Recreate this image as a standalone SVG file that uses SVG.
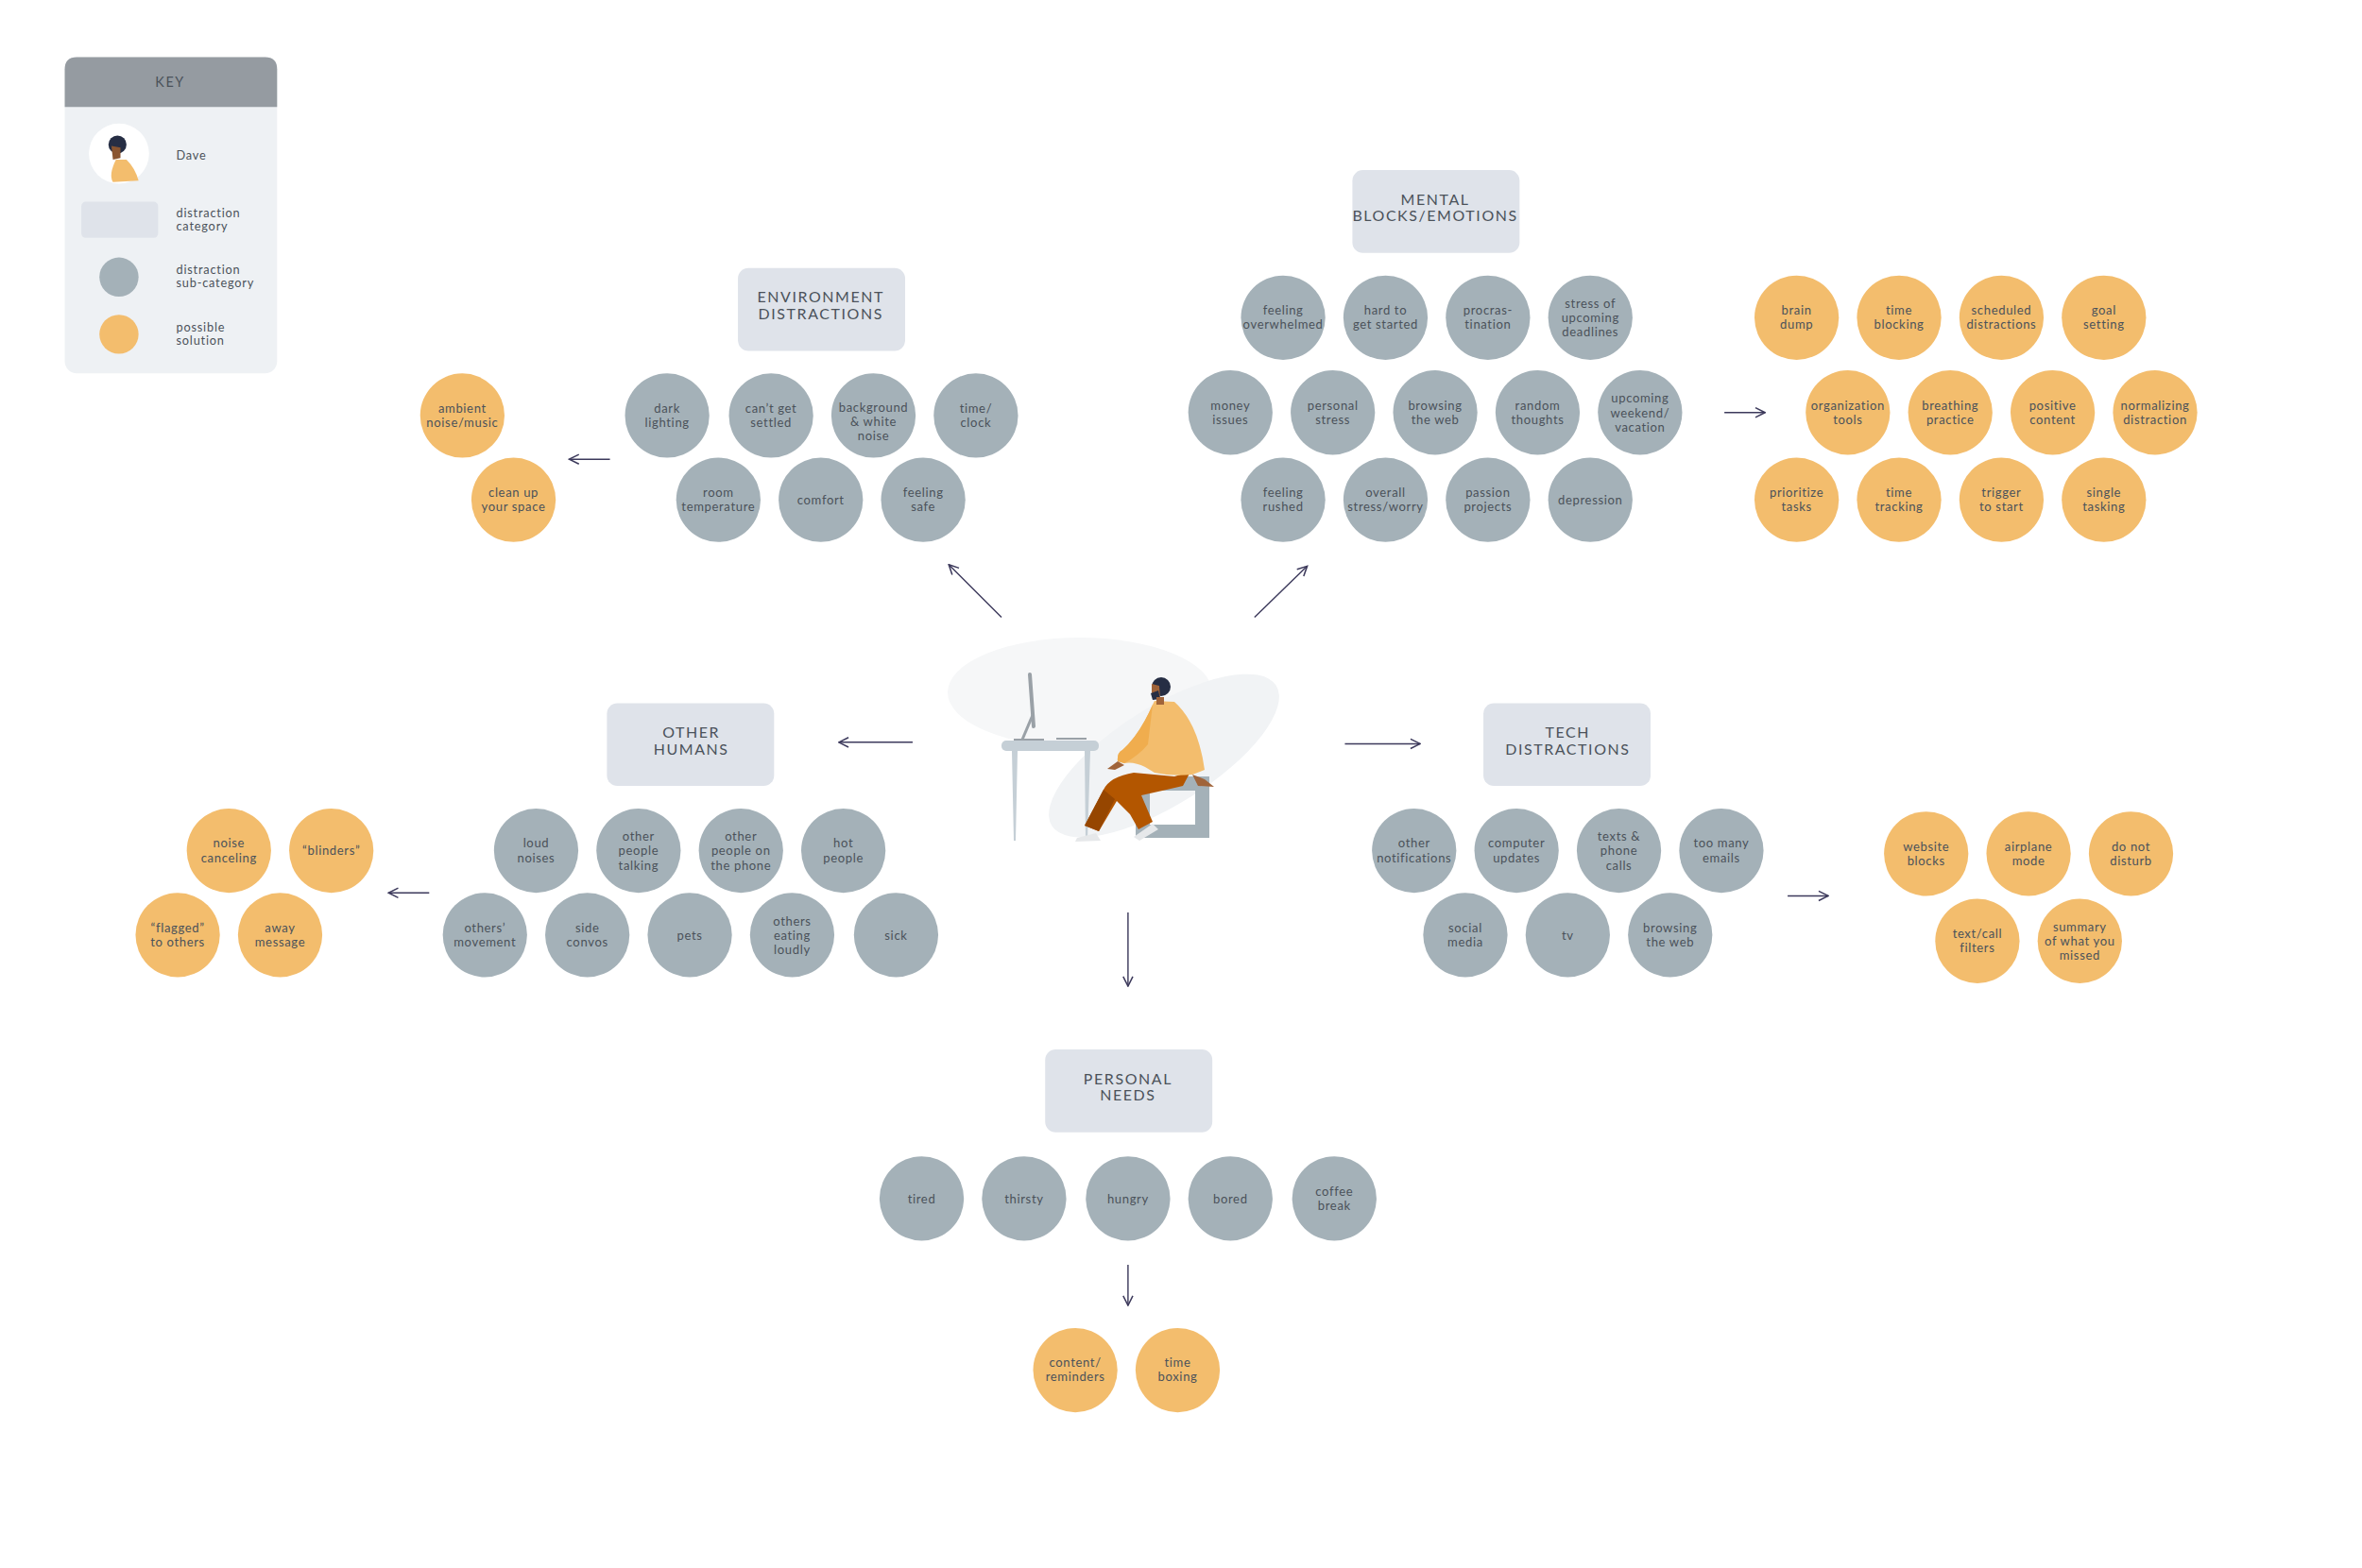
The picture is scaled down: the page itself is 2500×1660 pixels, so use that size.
<svg xmlns="http://www.w3.org/2000/svg" width="2500" height="1660" viewBox="0 0 2500 1660">
<style>
.g{fill:#a4b1b8}.o{fill:#f3bd6d}.cat{fill:#dfe3ea}
text{font-family:Lato,"Open Sans",sans-serif;fill:#4b525a}
.t{font-size:8.2px;text-anchor:middle;letter-spacing:0.4px}
.c{font-size:10px;text-anchor:middle;letter-spacing:1px}
.k{font-size:8px;letter-spacing:0.5px}
.a{stroke:#3d3a5c;stroke-width:0.9;fill:none;marker-end:url(#ah)}
</style>
<defs>
<marker id="ah" viewBox="0 0 10 10" refX="9" refY="5" markerWidth="8" markerHeight="8" orient="auto" markerUnits="userSpaceOnUse"><path d="M1,1 L9,5 L1,9" fill="none" stroke="#3d3a5c" stroke-width="1.2"/></marker>
</defs>
<rect width="2500" height="1660" fill="#fff"/>
<g id="illustration">
<ellipse cx="1143" cy="733" rx="140" ry="58" fill="#f6f7f8"/>
<ellipse cx="1232" cy="800" rx="140" ry="52" transform="rotate(-32 1232 800)" fill="#f1f3f5"/>
<rect x="1060" y="784" width="103" height="11" rx="5" fill="#c5cfd6"/>
<path d="M1071,795 L1077,795 L1075,890 L1073,890 Z M1148,795 L1154,795 L1151,890 L1149,890 Z" fill="#c5cfd6"/>
<line x1="1090" y1="714" x2="1094" y2="769" stroke="#9aa1a7" stroke-width="4" stroke-linecap="round"/>
<line x1="1093" y1="757" x2="1082" y2="783" stroke="#9aa1a7" stroke-width="3"/>
<line x1="1073" y1="783" x2="1105" y2="783" stroke="#9aa1a7" stroke-width="2"/>
<line x1="1118" y1="782" x2="1150" y2="782" stroke="#9aa1a7" stroke-width="2"/>
<path d="M1202,822 H1280 V887 H1202 Z M1217,837 V873 H1265 V837 Z" fill="#a4b1b8" fill-rule="evenodd"/>
<path d="M1260,817 L1243,822 L1200,818 Q1175,822 1168,836 L1148,874 L1163,880 L1182,848 L1196,862 L1205,878 L1220,870 L1208,842 Q1235,836 1252,832 Z" fill="#b35600"/>
<path d="M1168,836 L1148,874 L1163,880 L1180,846 Z" fill="#964600"/>
<path d="M1140,887 L1160,882 L1165,890 L1138,891 Z M1200,886 L1220,872 L1226,878 L1206,890 Z" fill="#e6e8ea"/>
<path d="M1222,742 L1243,743 Q1268,765 1275,815 L1262,820 Q1240,822 1222,818 L1212,812 Q1200,806 1190,808 L1183,806 Q1182,797 1188,794 Q1206,778 1220,746 Z" fill="#f3bd6d"/>
<path d="M1220,746 Q1206,778 1188,794 Q1182,797 1183,806 L1190,808 Q1205,800 1215,788 Z" fill="#f0ad4e"/>
<path d="M1262,820 L1275,825 L1285,833 L1268,832 Z M1183,806 L1172,814 L1180,815 L1190,810 Z" fill="#a0643a"/>
<circle cx="1229" cy="727" r="10" fill="#262e44"/>
<path d="M1219,724 L1227,726 L1228,740 L1222,740 L1219,733 Z" fill="#a0643a"/>
<path d="M1218,734 L1226,731 L1228,740 L1220,741 Z" fill="#262e44"/>
<rect x="1224" y="738" width="8" height="8" fill="#a0643a"/>
</g>
<g transform="scale(1.594)">
<g id="key">
<rect x="43" y="38" width="141" height="210" rx="8" fill="#eef1f4"/>
<path d="M43,71 V46 Q43,38 51,38 H176 Q184,38 184,46 V71 Z" fill="#959ba1"/>
<text x="113" y="58" class="c" style="font-size:9px">KEY</text>
<circle cx="79" cy="102" r="20" fill="#fff"/>
<circle cx="78" cy="96" r="6" fill="#262e44"/>
<path d="M74,97 L80,98 L80,105 L75,106 Z" fill="#8a5530"/>
<path d="M77,106 L84,106 Q90,112 92,120 L75,121 Q72,116 77,106 Z" fill="#f3bd6d"/>
<text x="117" y="106" class="k">Dave</text>
<rect x="54" y="134" width="51" height="24" rx="3" class="cat"/>
<text x="117" y="144" class="k">distraction</text><text x="117" y="153" class="k">category</text>
<circle cx="79" cy="184" r="13" class="g"/>
<text x="117" y="182" class="k">distraction</text><text x="117" y="191" class="k">sub-category</text>
<circle cx="79" cy="222" r="13" class="o"/>
<text x="117" y="220" class="k">possible</text><text x="117" y="229" class="k">solution</text>
</g>
<g id="connectors">
<line class="a" x1="665" y1="410" x2="630" y2="375"/>
<line class="a" x1="405" y1="305" x2="378" y2="305"/>
<line class="a" x1="833" y1="410" x2="868" y2="376"/>
<line class="a" x1="1145" y1="274" x2="1172" y2="274"/>
<line class="a" x1="606" y1="493" x2="557" y2="493"/>
<line class="a" x1="285" y1="593" x2="258" y2="593"/>
<line class="a" x1="893" y1="494" x2="943" y2="494"/>
<line class="a" x1="1187" y1="595" x2="1214" y2="595"/>
<line class="a" x1="749" y1="606" x2="749" y2="655"/>
<line class="a" x1="749" y1="840" x2="749" y2="867"/>
</g>
<g id="env"><rect x="490" y="178" width="111" height="55" rx="7" class="cat"/><text x="545" y="201" class="c">ENVIRONMENT</text><text x="545" y="212" class="c">DISTRACTIONS</text></g>
<g id="env1"><circle cx="443" cy="276" r="28" class="g"/><text class="t" x="443" y="274">dark</text><text class="t" x="443" y="283.5">lighting</text></g>
<g id="env2"><circle cx="512" cy="276" r="28" class="g"/><text class="t" x="512" y="274">can’t get</text><text class="t" x="512" y="283.5">settled</text></g>
<g id="env3"><circle cx="580" cy="276" r="28" class="g"/><text class="t" x="580" y="273.5">background</text><text class="t" x="580" y="283">&amp; white</text><text class="t" x="580" y="292.5">noise</text></g>
<g id="env4"><circle cx="648" cy="276" r="28" class="g"/><text class="t" x="648" y="274">time/</text><text class="t" x="648" y="283.5">clock</text></g>
<g id="env5"><circle cx="477" cy="332" r="28" class="g"/><text class="t" x="477" y="330">room</text><text class="t" x="477" y="339.5">temperature</text></g>
<g id="env6"><circle cx="545" cy="332" r="28" class="g"/><text class="t" x="545" y="335">comfort</text></g>
<g id="env7"><circle cx="613" cy="332" r="28" class="g"/><text class="t" x="613" y="330">feeling</text><text class="t" x="613" y="339.5">safe</text></g>
<g id="envs1"><circle cx="307" cy="276" r="28" class="o"/><text class="t" x="307" y="274">ambient</text><text class="t" x="307" y="283.5">noise/music</text></g>
<g id="envs2"><circle cx="341" cy="332" r="28" class="o"/><text class="t" x="341" y="330">clean up</text><text class="t" x="341" y="339.5">your space</text></g>
<g id="mental"><rect x="898" y="113" width="111" height="55" rx="7" class="cat"/><text x="953" y="136" class="c">MENTAL</text><text x="953" y="147" class="c">BLOCKS/EMOTIONS</text></g>
<g id="m1"><circle cx="852" cy="211" r="28" class="g"/><text class="t" x="852" y="209">feeling</text><text class="t" x="852" y="218.5">overwhelmed</text></g>
<g id="m2"><circle cx="920" cy="211" r="28" class="g"/><text class="t" x="920" y="209">hard to</text><text class="t" x="920" y="218.5">get started</text></g>
<g id="m3"><circle cx="988" cy="211" r="28" class="g"/><text class="t" x="988" y="209">procras-</text><text class="t" x="988" y="218.5">tination</text></g>
<g id="m4"><circle cx="1056" cy="211" r="28" class="g"/><text class="t" x="1056" y="204.5">stress of</text><text class="t" x="1056" y="214">upcoming</text><text class="t" x="1056" y="223.5">deadlines</text></g>
<g id="m5"><circle cx="817" cy="274" r="28" class="g"/><text class="t" x="817" y="272">money</text><text class="t" x="817" y="281.5">issues</text></g>
<g id="m6"><circle cx="885" cy="274" r="28" class="g"/><text class="t" x="885" y="272">personal</text><text class="t" x="885" y="281.5">stress</text></g>
<g id="m7"><circle cx="953" cy="274" r="28" class="g"/><text class="t" x="953" y="272">browsing</text><text class="t" x="953" y="281.5">the web</text></g>
<g id="m8"><circle cx="1021" cy="274" r="28" class="g"/><text class="t" x="1021" y="272">random</text><text class="t" x="1021" y="281.5">thoughts</text></g>
<g id="m9"><circle cx="1089" cy="274" r="28" class="g"/><text class="t" x="1089" y="267.5">upcoming</text><text class="t" x="1089" y="277">weekend/</text><text class="t" x="1089" y="286.5">vacation</text></g>
<g id="m10"><circle cx="852" cy="332" r="28" class="g"/><text class="t" x="852" y="330">feeling</text><text class="t" x="852" y="339.5">rushed</text></g>
<g id="m11"><circle cx="920" cy="332" r="28" class="g"/><text class="t" x="920" y="330">overall</text><text class="t" x="920" y="339.5">stress/worry</text></g>
<g id="m12"><circle cx="988" cy="332" r="28" class="g"/><text class="t" x="988" y="330">passion</text><text class="t" x="988" y="339.5">projects</text></g>
<g id="m13"><circle cx="1056" cy="332" r="28" class="g"/><text class="t" x="1056" y="335">depression</text></g>
<g id="ms1"><circle cx="1193" cy="211" r="28" class="o"/><text class="t" x="1193" y="209">brain</text><text class="t" x="1193" y="218.5">dump</text></g>
<g id="ms2"><circle cx="1261" cy="211" r="28" class="o"/><text class="t" x="1261" y="209">time</text><text class="t" x="1261" y="218.5">blocking</text></g>
<g id="ms3"><circle cx="1329" cy="211" r="28" class="o"/><text class="t" x="1329" y="209">scheduled</text><text class="t" x="1329" y="218.5">distractions</text></g>
<g id="ms4"><circle cx="1397" cy="211" r="28" class="o"/><text class="t" x="1397" y="209">goal</text><text class="t" x="1397" y="218.5">setting</text></g>
<g id="ms5"><circle cx="1227" cy="274" r="28" class="o"/><text class="t" x="1227" y="272">organization</text><text class="t" x="1227" y="281.5">tools</text></g>
<g id="ms6"><circle cx="1295" cy="274" r="28" class="o"/><text class="t" x="1295" y="272">breathing</text><text class="t" x="1295" y="281.5">practice</text></g>
<g id="ms7"><circle cx="1363" cy="274" r="28" class="o"/><text class="t" x="1363" y="272">positive</text><text class="t" x="1363" y="281.5">content</text></g>
<g id="ms8"><circle cx="1431" cy="274" r="28" class="o"/><text class="t" x="1431" y="272">normalizing</text><text class="t" x="1431" y="281.5">distraction</text></g>
<g id="ms9"><circle cx="1193" cy="332" r="28" class="o"/><text class="t" x="1193" y="330">prioritize</text><text class="t" x="1193" y="339.5">tasks</text></g>
<g id="ms10"><circle cx="1261" cy="332" r="28" class="o"/><text class="t" x="1261" y="330">time</text><text class="t" x="1261" y="339.5">tracking</text></g>
<g id="ms11"><circle cx="1329" cy="332" r="28" class="o"/><text class="t" x="1329" y="330">trigger</text><text class="t" x="1329" y="339.5">to start</text></g>
<g id="ms12"><circle cx="1397" cy="332" r="28" class="o"/><text class="t" x="1397" y="330">single</text><text class="t" x="1397" y="339.5">tasking</text></g>
<g id="humans"><rect x="403" y="467" width="111" height="55" rx="7" class="cat"/><text x="459" y="490" class="c">OTHER</text><text x="459" y="501" class="c">HUMANS</text></g>
<g id="h1"><circle cx="356" cy="565" r="28" class="g"/><text class="t" x="356" y="563">loud</text><text class="t" x="356" y="572.5">noises</text></g>
<g id="h2"><circle cx="424" cy="565" r="28" class="g"/><text class="t" x="424" y="558.5">other</text><text class="t" x="424" y="568">people</text><text class="t" x="424" y="577.5">talking</text></g>
<g id="h3"><circle cx="492" cy="565" r="28" class="g"/><text class="t" x="492" y="558.5">other</text><text class="t" x="492" y="568">people on</text><text class="t" x="492" y="577.5">the phone</text></g>
<g id="h4"><circle cx="560" cy="565" r="28" class="g"/><text class="t" x="560" y="563">hot</text><text class="t" x="560" y="572.5">people</text></g>
<g id="h5"><circle cx="322" cy="621" r="28" class="g"/><text class="t" x="322" y="619">others’</text><text class="t" x="322" y="628.5">movement</text></g>
<g id="h6"><circle cx="390" cy="621" r="28" class="g"/><text class="t" x="390" y="619">side</text><text class="t" x="390" y="628.5">convos</text></g>
<g id="h7"><circle cx="458" cy="621" r="28" class="g"/><text class="t" x="458" y="624">pets</text></g>
<g id="h8"><circle cx="526" cy="621" r="28" class="g"/><text class="t" x="526" y="614.5">others</text><text class="t" x="526" y="624">eating</text><text class="t" x="526" y="633.5">loudly</text></g>
<g id="h9"><circle cx="595" cy="621" r="28" class="g"/><text class="t" x="595" y="624">sick</text></g>
<g id="hs1"><circle cx="152" cy="565" r="28" class="o"/><text class="t" x="152" y="563">noise</text><text class="t" x="152" y="572.5">canceling</text></g>
<g id="hs2"><circle cx="220" cy="565" r="28" class="o"/><text class="t" x="220" y="568">“blinders”</text></g>
<g id="hs3"><circle cx="118" cy="621" r="28" class="o"/><text class="t" x="118" y="619">“flagged”</text><text class="t" x="118" y="628.5">to others</text></g>
<g id="hs4"><circle cx="186" cy="621" r="28" class="o"/><text class="t" x="186" y="619">away</text><text class="t" x="186" y="628.5">message</text></g>
<g id="tech"><rect x="985" y="467" width="111" height="55" rx="7" class="cat"/><text x="1041" y="490" class="c">TECH</text><text x="1041" y="501" class="c">DISTRACTIONS</text></g>
<g id="t1"><circle cx="939" cy="565" r="28" class="g"/><text class="t" x="939" y="563">other</text><text class="t" x="939" y="572.5">notifications</text></g>
<g id="t2"><circle cx="1007" cy="565" r="28" class="g"/><text class="t" x="1007" y="563">computer</text><text class="t" x="1007" y="572.5">updates</text></g>
<g id="t3"><circle cx="1075" cy="565" r="28" class="g"/><text class="t" x="1075" y="558.5">texts &amp;</text><text class="t" x="1075" y="568">phone</text><text class="t" x="1075" y="577.5">calls</text></g>
<g id="t4"><circle cx="1143" cy="565" r="28" class="g"/><text class="t" x="1143" y="563">too many</text><text class="t" x="1143" y="572.5">emails</text></g>
<g id="t5"><circle cx="973" cy="621" r="28" class="g"/><text class="t" x="973" y="619">social</text><text class="t" x="973" y="628.5">media</text></g>
<g id="t6"><circle cx="1041" cy="621" r="28" class="g"/><text class="t" x="1041" y="624">tv</text></g>
<g id="t7"><circle cx="1109" cy="621" r="28" class="g"/><text class="t" x="1109" y="619">browsing</text><text class="t" x="1109" y="628.5">the web</text></g>
<g id="ts1"><circle cx="1279" cy="567" r="28" class="o"/><text class="t" x="1279" y="565">website</text><text class="t" x="1279" y="574.5">blocks</text></g>
<g id="ts2"><circle cx="1347" cy="567" r="28" class="o"/><text class="t" x="1347" y="565">airplane</text><text class="t" x="1347" y="574.5">mode</text></g>
<g id="ts3"><circle cx="1415" cy="567" r="28" class="o"/><text class="t" x="1415" y="565">do not</text><text class="t" x="1415" y="574.5">disturb</text></g>
<g id="ts4"><circle cx="1313" cy="625" r="28" class="o"/><text class="t" x="1313" y="623">text/call</text><text class="t" x="1313" y="632.5">filters</text></g>
<g id="ts5"><circle cx="1381" cy="625" r="28" class="o"/><text class="t" x="1381" y="618.5">summary</text><text class="t" x="1381" y="628">of what you</text><text class="t" x="1381" y="637.5">missed</text></g>
<g id="personal"><rect x="694" y="697" width="111" height="55" rx="7" class="cat"/><text x="749" y="720" class="c">PERSONAL</text><text x="749" y="731" class="c">NEEDS</text></g>
<g id="p1"><circle cx="612" cy="796" r="28" class="g"/><text class="t" x="612" y="799">tired</text></g>
<g id="p2"><circle cx="680" cy="796" r="28" class="g"/><text class="t" x="680" y="799">thirsty</text></g>
<g id="p3"><circle cx="749" cy="796" r="28" class="g"/><text class="t" x="749" y="799">hungry</text></g>
<g id="p4"><circle cx="817" cy="796" r="28" class="g"/><text class="t" x="817" y="799">bored</text></g>
<g id="p5"><circle cx="886" cy="796" r="28" class="g"/><text class="t" x="886" y="794">coffee</text><text class="t" x="886" y="803.5">break</text></g>
<g id="ps1"><circle cx="714" cy="910" r="28" class="o"/><text class="t" x="714" y="908">content/</text><text class="t" x="714" y="917.5">reminders</text></g>
<g id="ps2"><circle cx="782" cy="910" r="28" class="o"/><text class="t" x="782" y="908">time</text><text class="t" x="782" y="917.5">boxing</text></g>
</g>
</svg>
